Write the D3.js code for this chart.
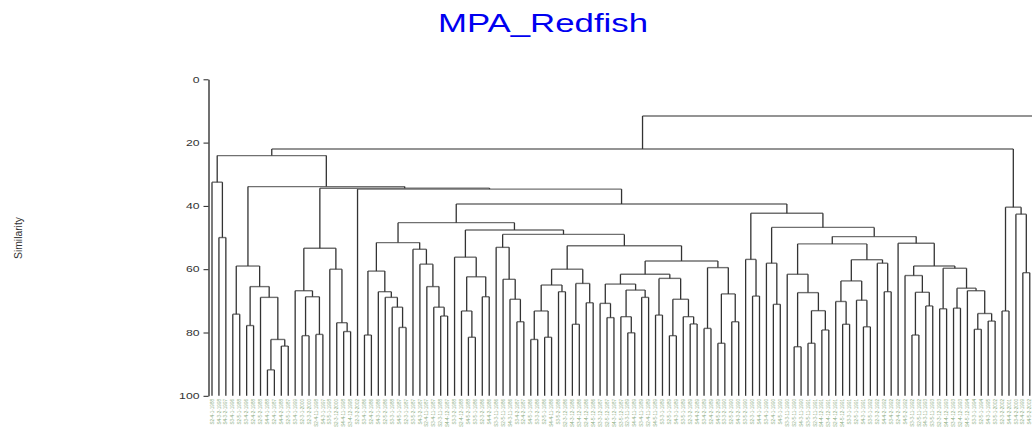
<!DOCTYPE html>
<html>
<head>
<meta charset="utf-8">
<script src="https://cdn.jsdelivr.net/npm/d3@7"></script>
<style>
  body { margin: 0; background: #fff; }
  svg { display: block; }
</style>
</head>
<body>
<svg id="chart" width="1032" height="428"></svg>
<script>
// leaf names, left to right (last one falls outside the picture)
const leafLabels = [
  "S2-4-1-1988", "S4-3-2-1998", "S4-3-2-1997", "S3-4-1-1996", "S2-5-1-1988",
  "S3-4-2-1996", "S2-4-2-1988", "S2-5-2-1988", "S4-4-1-1988", "S2-4-1-1987",
  "S4-4-2-1988", "S2-5-1-1987", "S3-4-1-1999", "S2-3-1-2000", "S2-3-2-2000",
  "S2-4-11-1998", "S4-3-1-1997", "S3-5-1-1998", "S2-3-12-2000", "S4-4-11-1998",
  "S3-4-12-1998", "S2-3-2-2002", "S3-4-1-1986", "S2-4-2-1986", "S4-3-1-1986",
  "S2-5-2-1986", "S3-3-1-1988", "S4-5-1-1987", "S2-3-1-1987", "S3-5-2-1987",
  "S4-3-2-1987", "S2-4-11-1987", "S3-4-11-1987", "S2-3-11-1988", "S4-4-12-1987",
  "S3-3-2-1988", "S2-4-12-1988", "S4-5-2-1988", "S3-5-1-1986", "S2-3-2-1986",
  "S4-4-2-1986", "S3-3-11-1986", "S2-5-11-1986", "S4-3-11-1986", "S3-4-2-1987",
  "S2-4-2-1987", "S4-5-1-1986", "S3-3-2-1986", "S2-5-1-1986", "S4-4-11-1986",
  "S3-5-2-1986", "S2-3-12-1986", "S4-3-12-1986", "S3-4-12-1986", "S2-4-12-1986",
  "S4-5-12-1986", "S3-3-12-1987", "S2-5-12-1987", "S4-3-12-1987", "S3-5-12-1987",
  "S2-3-11-1989", "S4-4-11-1989", "S3-4-11-1989", "S2-4-11-1989", "S4-5-11-1989",
  "S3-3-1-1989", "S2-5-1-1989", "S4-3-1-1989", "S3-5-1-1989", "S2-3-2-1989",
  "S4-4-2-1989", "S3-4-2-1989", "S2-4-2-1989", "S4-5-2-1989", "S3-3-2-1990",
  "S2-5-2-1990", "S4-3-2-1990", "S3-5-2-1990", "S2-3-1-1990", "S4-4-1-1990",
  "S3-4-1-1990", "S2-4-1-1990", "S4-5-1-1990", "S3-3-11-1990", "S2-5-11-1990",
  "S4-3-11-1990", "S3-5-11-1991", "S2-3-11-1991", "S4-4-12-1991", "S3-4-12-1991",
  "S2-4-12-1991", "S4-5-12-1991", "S3-3-1-1991", "S2-5-1-1991", "S4-3-1-1991",
  "S3-5-1-1992", "S2-3-2-1992", "S4-4-2-1992", "S3-4-2-1992", "S2-4-2-1992",
  "S4-5-2-1992", "S3-3-11-1992", "S2-5-11-1992", "S4-3-11-1993", "S3-5-11-1993",
  "S2-3-12-1993", "S4-4-12-1993", "S3-4-12-1993", "S2-4-12-1993", "S4-5-12-1994",
  "S3-3-1-1994", "S2-5-1-1994", "S4-3-1-1995", "S3-5-1-2002", "S2-3-2-2002",
  "S4-4-2-2001", "S3-4-2-2000", "S2-4-2-1999", "S4-5-2-2002", "S3-3-2-2001"
];

const yTicks = [0, 20, 40, 60, 80, 100];

// clusters: [similarity, left, right]; plain numbers are leaf indexes
const clusterL1 = [32.5, 0, [50.0, 1, 2]];
const clusterA1 = [59.0, [74.2, 3, 4], [65.5, [77.8, 5, 6], [68.9, 7, [82.2, [91.8, 8, 9], [84.3, 10, 11]]]]];
const clusterB1 = [53.4, [66.8, 12, [68.7, [81.0, 13, 14], [80.6, 15, 16]]], [60.0, 17, [76.9, 18, [79.7, 19, 20]]]];
const clusterE1 = [60.6, [80.8, 22, 23], [67.1, 24, [68.9, 25, [72.0, 26, [78.4, 27, 28]]]]];
const clusterE2 = [53.7, 29, [58.4, 30, [65.5, 31, [72.0, 32, [74.8, 33, 34]]]]];
const clusterF1 = [56.2, 35, [62.4, [73.2, 36, [81.5, 37, 38]], [68.7, 39, 40]]];
const clusterG1 = [53.1, 41, [63.2, 42, [69.5, 43, [76.6, 44, 45]]]];
const clusterH1 = [60.0, [65.0, [73.2, [82.2, 46, 47], [81.5, 48, 49]], [67.1, 50, 51]], [64.5, [77.4, 52, 53], [70.6, 54, 55]]];
const clusterI1 = [64.7, [70.8, 56, [75.3, 57, 58]], [66.6, [75.0, 59, [80.1, 60, 61]], [68.9, 62, 63]]];
const clusterI2 = [62.9, [74.5, 64, 65], [69.5, [81.0, 66, 67], [75.0, 68, [77.3, 69, 70]]]];
const clusterJ = [59.5, [78.7, 71, 72], [67.8, [83.4, 73, 74], [76.6, 75, 76]]];
const clusterK = [56.9, 77, [68.5, 78, 79]];
const clusterM1 = [58.1, 80, [71.1, 81, 82]];
const clusterO = [61.6, 83, [67.4, [84.5, 84, 85], [73.1, [83.4, 86, 87], [79.2, 88, 89]]]];
const clusterQ = [57.0, [63.7, [70.2, 90, [77.4, 91, 92]], [69.8, 93, [78.2, 94, 95]]], [58.1, 96, [67.1, 97, 98]]];
const clusterS1 = [62.0, 100, [67.3, [80.8, 101, 102], [71.6, 103, 104]]];
const clusterS2 = [59.7, [72.5, 105, 106], [66.0, [72.3, 107, 108], [66.8, 109, [74.0, [79.0, 110, 111], [76.4, 112, 113]]]]];
const clusterR = [40.4, [73.2, 114, 115], [42.6, 116, [61.1, 117, 118]]];

const clusterH = [52.6, clusterH1, [57.4, [61.6, clusterI1, clusterI2], clusterJ]];
const clusterD1 = [45.3, [51.6, clusterE1, clusterE2], [47.6, clusterF1, [49.0, clusterG1, clusterH]]];
const clusterD2 = [42.3, clusterK, [46.8, clusterM1, [49.7, [52.0, clusterO, clusterQ], [51.8, 99, [59.0, clusterS1, clusterS2]]]]];
const clusterL = [24.1, clusterL1, [33.9, clusterA1, [34.4, clusterB1, [34.7, 21, [39.4, clusterD1, clusterD2]]]]];
const tree = [11.6, [22.0, clusterL, clusterR], 119];

const svg = d3.select('#chart');

const x = d3.scalePoint()
  .domain(d3.range(leafLabels.length))
  .range([212, 1036.7]);
const y = d3.scaleLinear().domain([0, 100]).range([79.3, 395.8]);

const root = d3.hierarchy(tree, d => Array.isArray(d) ? d.slice(1) : null);
root.eachAfter(n => {
  if (n.children) {
    n.px = d3.mean(n.children, c => c.px);
    n.py = y(n.data[0]);
  } else {
    n.px = x(n.data);
    n.py = y(100);
  }
});

// title
svg.append('text')
  .attr('x', 543)
  .attr('y', 32)
  .attr('text-anchor', 'middle')
  .attr('font-family', 'Liberation Sans, Arial, sans-serif')
  .attr('font-size', 26)
  .attr('textLength', 210)
  .attr('lengthAdjust', 'spacingAndGlyphs')
  .attr('fill', '#0000f0')
  .text('MPA_Redfish');

// y axis
const axis = svg.append('g')
  .attr('transform', 'translate(208.5,0)')
  .call(d3.axisLeft(y).tickValues(yTicks).tickSize(5).tickSizeOuter(0).tickPadding(4));
axis.select('.domain').attr('stroke', '#111').attr('stroke-width', 1.2);
axis.selectAll('.tick line').attr('stroke', '#222');
axis.selectAll('.tick text')
  .attr('font-family', 'Liberation Sans, Arial, sans-serif')
  .attr('font-size', 8.5)
  .attr('fill', '#333')
  .attr('textLength', d => String(d).length * 6.8)
  .attr('lengthAdjust', 'spacingAndGlyphs');

svg.append('text')
  .attr('transform', 'translate(22,238) rotate(-90)')
  .attr('text-anchor', 'middle')
  .attr('font-family', 'Liberation Sans, Arial, sans-serif')
  .attr('font-size', 10.3)
  .attr('fill', '#333')
  .text('Similarity');

// dendrogram
const g = svg.append('g');
const nodes = root.descendants();

g.selectAll('path.hz')
  .data(nodes.filter(n => n.children))
  .join('path')
  .attr('class', 'hz')
  .attr('d', n => `M${n.children[0].px},${n.py}H${n.children[n.children.length - 1].px}`)
  .attr('fill', 'none')
  .attr('stroke', '#707070')
  .attr('stroke-width', 1.4);

g.selectAll('path.vt')
  .data(nodes.filter(n => n.parent))
  .join('path')
  .attr('class', 'vt')
  .attr('d', n => `M${n.px},${n.parent.py}V${n.py}`)
  .attr('fill', 'none')
  .attr('stroke', '#333')
  .attr('stroke-width', 1.3);

// leaf labels
g.selectAll('text.leaf')
  .data(root.leaves())
  .join('text')
  .attr('class', 'leaf')
  .attr('transform', n => `translate(${n.px},399) rotate(-90)`)
  .attr('dy', '0.35em')
  .attr('text-anchor', 'end')
  .attr('font-family', 'Liberation Sans, Arial, sans-serif')
  .attr('font-size', 4.6)
  .attr('fill', '#8cae84')
  .text(n => leafLabels[n.data]);
</script>
</body>
</html>
